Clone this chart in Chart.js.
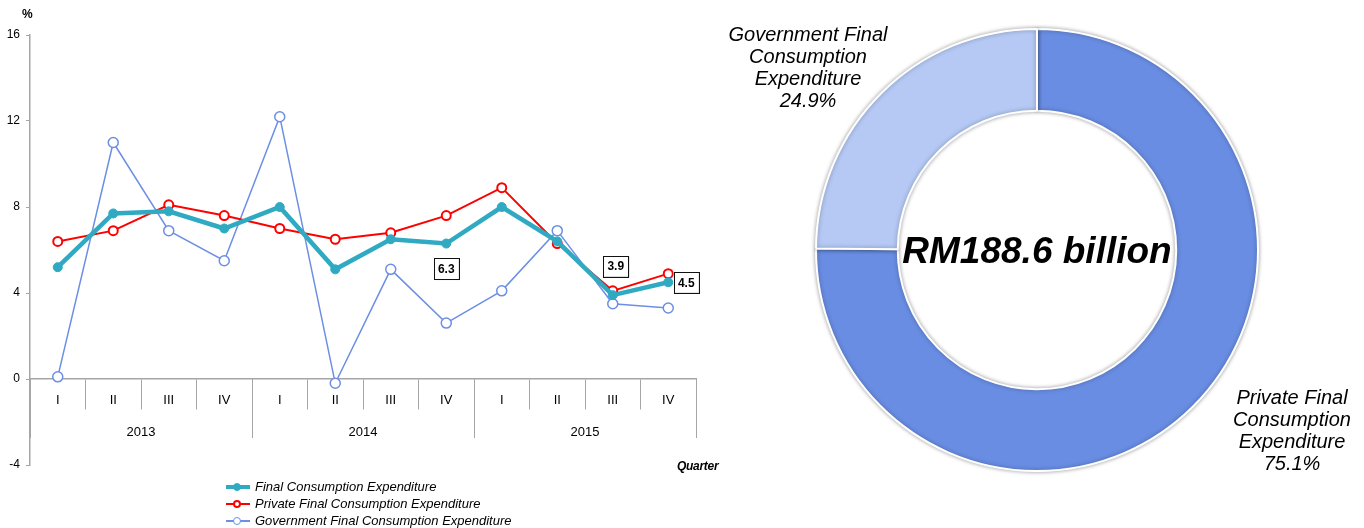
<!DOCTYPE html>
<html lang="en">
<head>
  <meta charset="UTF-8">
  <meta name="viewport" content="width=device-width, initial-scale=1.0">
  <title>Final Consumption Expenditure</title>
  <script src="https://cdn.jsdelivr.net/npm/chart.js"></script>
  <style>
    body { margin: 0; background: #fff; font-family: "Liberation Sans", Arial, sans-serif; color: #000; }
    #wrap { position: relative; width: 1364px; height: 528px; overflow: hidden; }
    #lineBox { position: absolute; left: 0; top: 0; width: 720px; height: 528px; }
    #pieBox { position: absolute; left: 720px; top: 0; width: 644px; height: 528px; }
    .note { position: absolute; font-family: "Liberation Sans Narrow", "Liberation Sans", sans-serif; font-weight: bold; }
    #pct { left: 22px; top: 7px; font-size: 12px; }
    #qtr { left: 677px; top: 459px; font-size: 12px; font-style: italic; letter-spacing: -0.3px; }
    #legend { position: absolute; left: 226px; top: 478px; font-size: 13px; font-style: italic; }
    #legend div { height: 17px; display: flex; align-items: center; white-space: nowrap; }
    .mark { position: relative; width: 24px; height: 12px; margin-right: 5px; }
    .mark i { position: absolute; left: 0; right: 0; top: 50%; transform: translateY(-50%); }
    .mark b { position: absolute; left: 7px; top: 50%; width: 8px; height: 8px; border-radius: 50%; transform: translateY(-50%); box-sizing: border-box; }
    .slice { position: absolute; width: 220px; text-align: center; font-size: 20px; line-height: 22px; font-style: italic; }
  </style>
</head>
<body>
  <div id="wrap">
    <div id="lineBox"><canvas id="lineChart" width="720" height="528"></canvas></div>
    <div id="pieBox"><canvas id="pieChart" width="644" height="528"></canvas></div>
    <div class="note" id="pct">%</div>
    <div class="note" id="qtr">Quarter</div>
    <div id="legend"></div>
    <div class="slice" id="govLabel" style="left:698px; top:23px;"></div>
    <div class="slice" id="privLabel" style="left:1182px; top:386px;"></div>
  </div>

  <script>
    // quarterly growth, %
    const quarters = ['I', 'II', 'III', 'IV', 'I', 'II', 'III', 'IV', 'I', 'II', 'III', 'IV'];
    const years = ['2013', '2014', '2015'];
    const fce  = [5.2, 7.7, 7.8, 7.0, 8.0, 5.1, 6.5, 6.3, 8.0, 6.4, 3.9, 4.5];
    const pfce = [6.4, 6.9, 8.1, 7.6, 7.0, 6.5, 6.8, 7.6, 8.9, 6.3, 4.1, 4.9];
    const gfce = [0.1, 11.0, 6.9, 5.5, 12.2, -0.2, 5.1, 2.6, 4.1, 6.9, 3.5, 3.3];
    const calloutIdx = [7, 10, 11];

    // share of 2015 consumption
    const shareNames = ['Private Final Consumption Expenditure', 'Government Final Consumption Expenditure'];
    const shareValues = [75.1, 24.9];
    const totalLabel = 'RM188.6 billion';

    const narrow = '"Liberation Sans Narrow", "Liberation Sans", sans-serif';
    const teal = '#2FAAC2', red = '#FF0000', blue = '#6C8FE4';

    const callouts = {
      id: 'callouts',
      afterDatasetsDraw(chart) {
        const meta = chart.getDatasetMeta(0);
        const shift = [[0, 25], [3, -29], [18, 0]];
        const ctx = chart.ctx;
        ctx.save();
        ctx.font = 'bold 12px ' + narrow;
        ctx.textAlign = 'center';
        ctx.textBaseline = 'middle';
        calloutIdx.forEach((idx, k) => {
          const p = meta.data[idx];
          const x = p.x + shift[k][0], y = p.y + shift[k][1];
          const txt = fce[idx].toFixed(1);
          const w = Math.round(ctx.measureText(txt).width) + 8, h = 21;
          ctx.fillStyle = '#999';
          ctx.fillRect(x - w / 2 + 1, y - h / 2 + 1, w, h);
          ctx.fillStyle = '#fff';
          ctx.fillRect(x - w / 2, y - h / 2, w, h);
          ctx.strokeStyle = '#111';
          ctx.lineWidth = 1;
          ctx.strokeRect(Math.round(x - w / 2) + 0.5, Math.round(y - h / 2) + 0.5, w, h);
          ctx.fillStyle = '#000';
          ctx.fillText(txt, x, y + 1);
        });
        ctx.restore();
      }
    };

    const lineChart = new Chart(document.getElementById('lineChart'), {
      type: 'line',
      data: {
        labels: quarters,
        datasets: [
          { label: 'Final Consumption Expenditure', data: fce, borderColor: teal, backgroundColor: teal,
            borderWidth: 4.5, pointRadius: 4.5, pointBorderWidth: 1, pointBackgroundColor: teal, pointBorderColor: teal },
          { label: 'Private Final Consumption Expenditure', data: pfce, borderColor: red, backgroundColor: '#fff',
            borderWidth: 2, pointRadius: 4.5, pointBorderWidth: 2, pointBackgroundColor: '#fff', pointBorderColor: red },
          { label: 'Government Final Consumption Expenditure', data: gfce, borderColor: blue, backgroundColor: '#fff',
            borderWidth: 1.5, pointRadius: 5, pointBorderWidth: 1.5, pointBackgroundColor: '#fff', pointBorderColor: blue }
        ]
      },
      options: {
        responsive: false,
        animation: false,
        layout: { padding: { left: 0, right: 24, top: 35, bottom: 63 } },
        plugins: { legend: { display: false }, tooltip: { enabled: false } },
        scales: {
          y: {
            min: -4, max: 16,
            ticks: { stepSize: 4, color: '#000', padding: 6, font: { family: narrow, size: 12 } },
            grid: { drawOnChartArea: false, tickLength: 4, color: '#a6a6a6' },
            border: { color: '#a6a6a6', width: 1.5 },
            afterFit(scale) { scale.width = 30; }
          },
          x: {
            position: { y: 0 },
            offset: true,
            ticks: { color: '#000', padding: -16, font: { family: narrow, size: 13 } },
            grid: { offset: true, drawOnChartArea: false, tickLength: 30, color: '#a6a6a6' },
            border: { color: '#a6a6a6', width: 1.5 }
          },
          year: {
            type: 'category',
            axis: 'x',
            labels: years,
            position: { y: 0 },
            offset: true,
            ticks: { color: '#000', padding: -13, font: { family: narrow, size: 13 } },
            grid: { offset: true, drawOnChartArea: false, tickLength: 59, color: '#a6a6a6' },
            border: { display: false }
          }
        }
      },
      plugins: [callouts]
    });

    // legend rows built from the datasets
    const legend = document.getElementById('legend');
    lineChart.data.datasets.forEach(ds => {
      const row = document.createElement('div');
      row.innerHTML =
        '<span class="mark"><i style="border-top:' + Math.max(2, ds.borderWidth) + 'px solid ' + ds.borderColor + '"></i>' +
        '<b style="background:' + ds.pointBackgroundColor + ';border:' + ds.pointBorderWidth + 'px solid ' + ds.pointBorderColor + '"></b></span>';
      row.appendChild(document.createTextNode(ds.label));
      legend.appendChild(row);
    });

    const centerText = {
      id: 'centerText',
      beforeDatasetDraw(chart) {
        chart.ctx.save();
        chart.ctx.shadowColor = 'rgba(0,0,0,0.35)';
        chart.ctx.shadowBlur = 4;
      },
      afterDatasetDraw(chart) {
        chart.ctx.restore();
      },
      afterDraw(chart) {
        const arc = chart.getDatasetMeta(0).data[0];
        const ctx = chart.ctx;
        ctx.save();
        ctx.font = 'italic bold 37px "Liberation Sans", Arial, sans-serif';
        ctx.textAlign = 'center';
        ctx.textBaseline = 'middle';
        ctx.fillStyle = '#000';
        ctx.fillText(totalLabel, arc.x, arc.y + 3);
        ctx.restore();
      }
    };

    new Chart(document.getElementById('pieChart'), {
      type: 'doughnut',
      data: {
        labels: shareNames,
        datasets: [{
          data: shareValues,
          backgroundColor: ['#698DE3', '#B5C9F4'],
          borderColor: '#fff',
          borderWidth: 2
        }]
      },
      options: {
        responsive: false,
        animation: false,
        cutout: '63%',
        layout: { padding: { left: 95, right: 105, top: 28, bottom: 56 } },
        plugins: { legend: { display: false }, tooltip: { enabled: false } }
      },
      plugins: [centerText]
    });

    function sliceText(name, value) {
      const words = name.split(' ');
      return [words.slice(0, 2).join(' '), words[2], words[3], value.toFixed(1) + '%'].join('<br>');
    }
    document.getElementById('privLabel').innerHTML = sliceText(shareNames[0], shareValues[0]);
    document.getElementById('govLabel').innerHTML = sliceText(shareNames[1], shareValues[1]);
  </script>
</body>
</html>
